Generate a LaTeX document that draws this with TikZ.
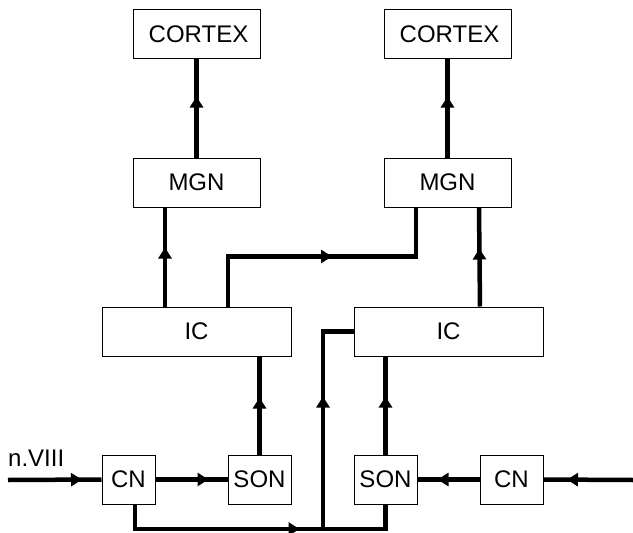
\documentclass[tikz,border=0pt]{standalone}
\usepackage{fontspec}
\setmainfont{Liberation Sans}
\usetikzlibrary{positioning, arrows.meta, calc, decorations.markings}

\begin{document}
\begin{tikzpicture}[
    x=1pt, y=-1pt,
    font=\fontsize{24}{28}\selectfont,
    every node/.style={align=center},
    box/.style={
        draw, line width=1pt, fill=white,
        minimum height=49pt, minimum width=63pt, inner sep=0pt
    },
    wide/.style={box, minimum width=127pt},
    nucleus/.style={box, minimum width=189pt},
    flow/.style={line width=4.5pt},
    tip/.style={
        postaction={decorate, decoration={markings,
            mark=at position #1 with {\arrow{Triangle[length=11pt, width=13pt]}}}}
    }
]
\useasboundingbox (0,0) rectangle (633,533);

% --------------------------------------------------------------------------
% Left pathway.
% --------------------------------------------------------------------------
\node[wide] (cortexL) at (196.5,34) {\hspace*{4pt}CORTEX};
\node[wide] (mgnL) at (196.5,182.5) {MGN};
\node[nucleus] (icL) at (196.5,331.5) {IC};
\node[box, minimum width=53pt] (cnL) at (128.5,479.5) {CN};
\node[box] (sonL) at (259.5,479.5) {SON};

% Right pathway.
\node[wide] (cortexR) at (447.5,34) {\hspace*{4pt}CORTEX};
\node[wide] (mgnR) at (447.5,182.5) {MGN};
\node[nucleus] (icR) at (448.5,331.5) {IC};
\node[box] (sonR) at (385.5,479.5) {SON};
\node[box] (cnR) at (511.5,479.5) {CN};

% Nerve inputs and crossing point.
\coordinate (inL) at (8,480);
\coordinate (inR) at (633,480);
\coordinate (cross) at (323,529);
\node[anchor=base west, inner sep=0pt] (nerve) at (8,466) {n.VIII};

% Ascending flow, left side.
\draw[flow, tip=74pt] (inL) -- (cnL.west);
\draw[flow, tip=53pt] (cnL.east) -- (sonL.west);
\draw[flow, tip=57pt] (sonL.north) -- (icL.south -| sonL.north);
\draw[flow, tip=59pt] ([xshift=-31.5pt]icL.north) -- ([xshift=-31.5pt]mgnL.south);
\draw[flow, tip=61pt] (mgnL.north) -- (cortexL.south);

% Ascending flow, right side.
\draw[flow, tip=66pt] (inR) -- (cnR.east);
\draw[flow, tip=42pt] (cnR.west) -- (sonR.east);
\draw[flow, tip=58pt] (sonR.north) -- (icR.south -| sonR.north);
\draw[flow, tip=58pt] ([xshift=31.5pt]icR.north) -- ([xshift=31.5pt]mgnR.south);
\draw[flow, tip=61pt] (mgnR.north) -- (cortexR.south);

% Crossed connections.
\draw[flow, tip=154pt] ([xshift=31.5pt]icL.north) -- ++(0,-50) -| ([xshift=-31.5pt]mgnR.south);
\draw[flow, tip=189pt, tip=345pt] ([xshift=6.5pt]cnL.south) |- (cross) |- (icR.west);
\draw[flow] (sonR.south) |- (cross);

\end{tikzpicture}
\end{document}
